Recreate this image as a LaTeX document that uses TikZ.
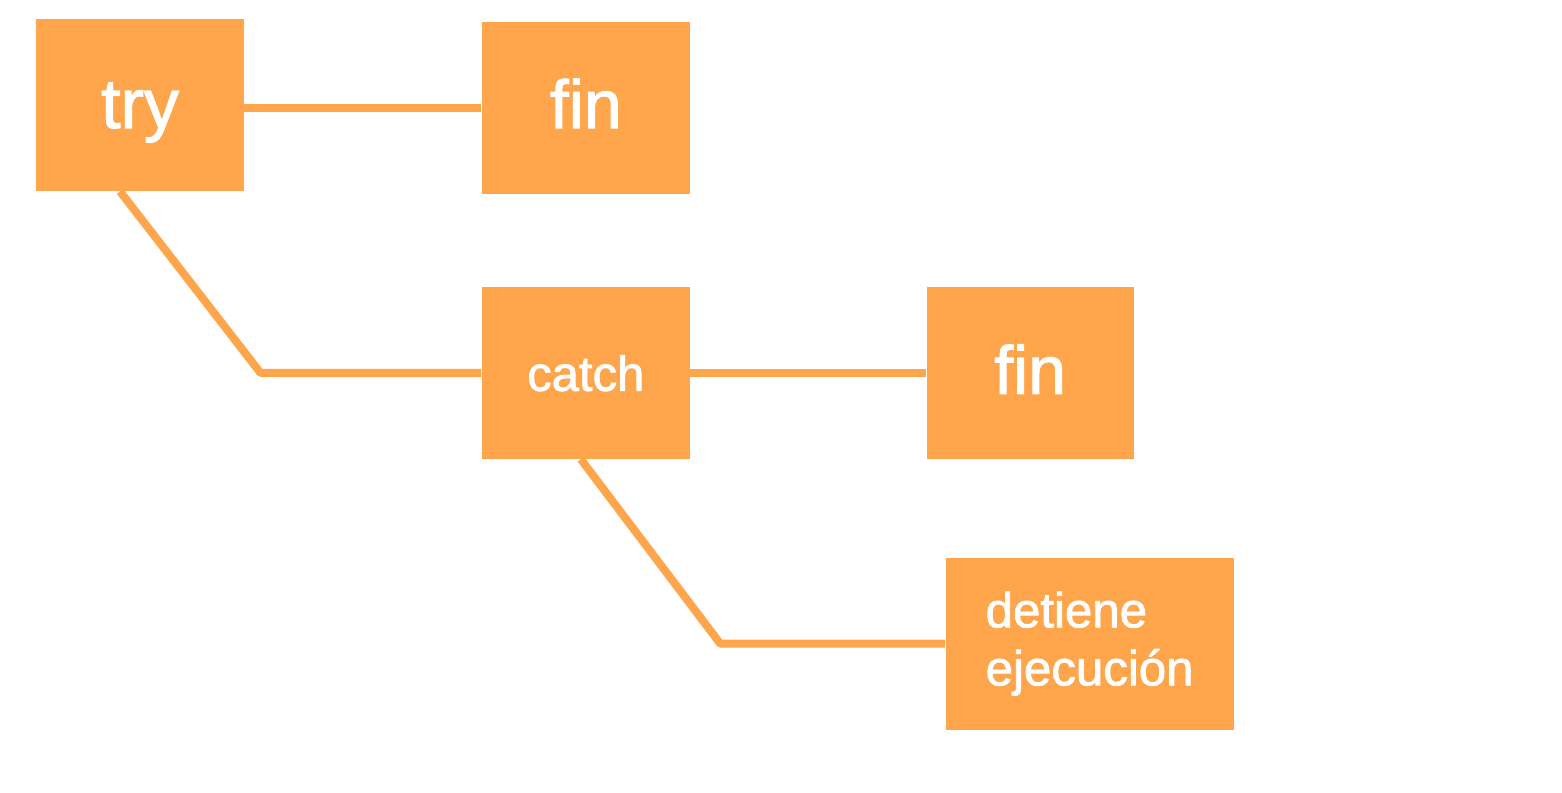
\documentclass[tikz,border=0pt]{standalone}
\usepackage{fontspec}
\setmainfont{Liberation Sans}
\newfontfamily\rotulo[FakeBold=1.6]{Liberation Sans}
\usetikzlibrary{positioning}
\definecolor{naranja}{HTML}{FFA64D}

\begin{document}
\begin{tikzpicture}
			\tikzset{block/.style= {fill=naranja, rectangle, align=center, minimum width=104pt, minimum height=86pt, text=white, font=\rotulo\fontsize{35}{40}\selectfont, inner sep=0pt},
			oneline/.style= {text height=#1, text depth=0pt},
			link/.style= {draw=naranja, line width=4pt, line join=round},
			}
			\useasboundingbox (0,0) rectangle (781pt,-396pt);
			\node [block, oneline=23pt] (try) at (70pt,-52.5pt) {try};
			\node [block, oneline=20pt, right = 118.5pt of try, yshift=-1.5pt, font=\rotulo\fontsize{34}{40}\selectfont] (fin) {fin};
			\node [block, oneline=18pt, below = 46pt of fin, font=\rotulo\fontsize{24.5}{30}\selectfont] (catch) {catch};
			\node [block, oneline=21pt, right = 118pt of catch, minimum width=103.5pt, font=\rotulo\fontsize{34}{40}\selectfont] (fincatch) {fin};
			\node [block, below right = 49pt and 127.5pt of catch, minimum width=144pt, align=left, font=\rotulo\fontsize{24.6}{29}\selectfont] (detiene) {detiene\\ejecución};

			\path[link]
			(try.east |- fin) -- (fin.west);

			\path[link]
			([xshift=-10pt]try.south) -- ([xshift=-110.5pt]catch.west) -- (catch.west);
			\path[link]
			(catch) -- (fincatch);
			\path[link]
			([xshift=-2.5pt]catch.south) -- ([xshift=-112.5pt]detiene.west) -- (detiene.west);
		\end{tikzpicture}
\end{document}
